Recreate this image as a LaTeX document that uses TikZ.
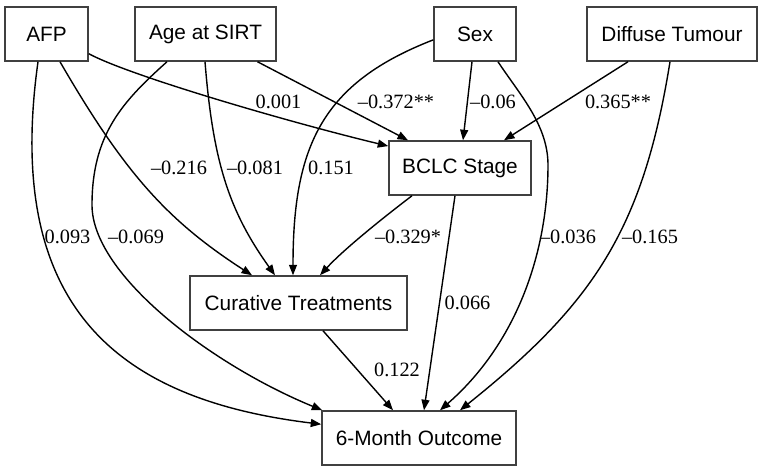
\documentclass[tikz,border=0pt]{standalone}
\usepackage{fontspec}
\setmainfont{Liberation Serif}
\newfontfamily\boxfont{Liberation Sans}
\usetikzlibrary{arrows.meta}
\begin{document}
\begin{tikzpicture}[x=1pt,y=-1pt,
  var/.style={draw=black!75, line width=1.5pt, fill=white, minimum height=54pt, inner sep=2pt,
    font=\boxfont\fontsize{20.8}{24}\selectfont},
  edge/.style={line width=1.4pt, -{Triangle[length=10.5pt,width=8pt]}},
  coef/.style={font=\fontsize{20.3}{24}\selectfont, inner sep=0pt}]
\useasboundingbox (0,0) rectangle (761,471);
% nodes
\node[var, minimum width=83pt]  (afp)  at (46.5,34)  {AFP};
\node[var, minimum width=141pt] (age)  at (205.5,34) {Age at SIRT};
\node[var, minimum width=82pt]  (sex)  at (475,34)   {Sex};
\node[var, minimum width=170pt] (diff) at (672,34)   {Diffuse Tumour};
\node[var, minimum width=142pt] (bclc) at (460,168)  {BCLC Stage};
\node[var, minimum width=217pt] (cur)  at (298.5,303) {Curative Treatments};
\node[var, minimum width=194pt] (out)  at (419,438)  {6-Month Outcome};
% edges
\draw[edge] (afp.-25) .. controls (130,76) and (292,123) .. (bclc.163);
\draw[edge] ([xshift=52pt]age.south) -- ([xshift=-52pt]bclc.north);
\draw[edge] ([xshift=-3pt]sex.south) -- ([xshift=3pt]bclc.north);
\draw[edge] ([xshift=-44pt]diff.south) -- ([xshift=44pt]bclc.north);
\draw[edge] ([xshift=13.5pt]afp.south) .. controls (125,174) and (168,221) .. ([xshift=-46.5pt]cur.north);
\draw[edge] ([xshift=-0.5pt]age.south) .. controls (213,162) and (229,211) .. ([xshift=-23.5pt]cur.north);
\draw[edge] (sex.188) .. controls (322,83) and (293,146) .. ([xshift=-5.5pt]cur.north);
\draw[edge] ([xshift=-48pt]bclc.south) .. controls (388,214) and (345,248) .. ([xshift=21.5pt]cur.north);
\draw[edge] ([xshift=-8.5pt]afp.south) .. controls (3,312) and (123,400) .. (out.172);
\draw[edge] ([xshift=-38.5pt]age.south) .. controls (122,102) and (92,135) .. (92,205)
   .. controls (92,275) and (212,365) .. ([xshift=1pt]out.north west);
\draw[edge] ([xshift=23pt]sex.south) .. controls (520,95) and (548,125) .. (548,165)
   .. controls (548,255) and (515,345) .. ([xshift=21pt]out.north);
\draw[edge] ([xshift=-2pt]diff.south) .. controls (643,230) and (593,304) .. ([xshift=41pt]out.north);
\draw[edge] ([xshift=-5pt]bclc.south) -- ([xshift=5pt]out.north);
\draw[edge] ([xshift=24.5pt]cur.south) -- ([xshift=-26pt]out.north);
% coefficients
\node[coef] (l1)  at (278.5,102) {0.001};
\node[coef] (l2)  at (396,102)   {\textendash0.372**};
\node[coef] (l3)  at (493,102)   {\textendash0.06};
\node[coef] (l4)  at (618,102)   {0.365**};
\node[coef] (l5)  at (179,168)   {\textendash0.216};
\node[coef] (l6)  at (255,168)   {\textendash0.081};
\node[coef] (l7)  at (331,168)   {0.151};
\node[coef] (l8)  at (67.5,237)  {0.093};
\node[coef] (l9)  at (136,237)   {\textendash0.069};
\node[coef] (l10) at (408,237)   {\textendash0.329*};
\node[coef] (l11) at (568,237)   {\textendash0.036};
\node[coef] (l12) at (650,237)   {\textendash0.165};
\node[coef] (l13) at (467.5,303) {0.066};
\node[coef] (l14) at (397,370)   {0.122};
\end{tikzpicture}
\end{document}
